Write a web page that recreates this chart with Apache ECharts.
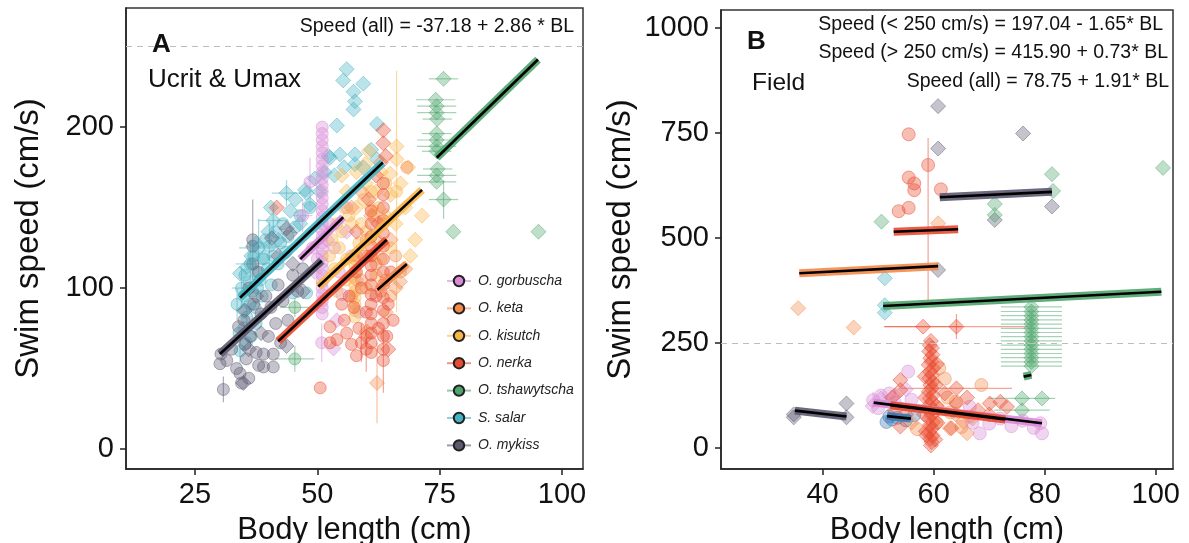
<!DOCTYPE html>
<html><head><meta charset="utf-8">
<script src="https://cdn.jsdelivr.net/npm/echarts/dist/echarts.min.js"></script>
<style>html,body{margin:0;padding:0;background:#fff}#c{width:1189px;height:543px}</style>
</head><body><div id="c"></div>
<script>
// ---------------- DATA ----------------
const species = ['O. gorbuscha','O. keta','O. kisutch','O. nerka','O. tshawytscha','S. salar','O. mykiss'];
const xTicksA = [25,50,75,100];
const yTicksA = [0,100,200];
const xTicksB = [40,60,80,100];
const yTicksB = [0,250,500,750,1000];
const threshold = 250;

// points: [bodyLength, speed, xErr, yErr]
const A_salar_c = [[33.6,90,0,10],[34.2,61,0,8],[34.5,100,2,12],[35,95],[35.2,108],[35.6,82,0,10],[36,104],[36.3,115,3,14],[36.8,98],[37,120],[37.3,88],[37.6,110],[38,125,4,18],[38.3,105],[38.7,95],[39,118],[39.4,130],[39.8,112],[40.2,126,5,15],[40.6,102],[41,120],[41.5,135],[42,115],[42.5,128],[43,140],[43.5,122],[44,132],[45,97],[45.5,138],[46.5,145],[47.8,97],[48.5,150],[36.5,70],[35,75],[37.5,78],[34,72],[35.5,66],[36.2,90],[37.8,100]];
const A_salar_d = [[34.2,109],[34.9,86],[35.6,113],[36.5,120],[37.5,128],[39,119],[40,135],[41,142,3,10],[42,130],[43.7,159,3,8],[44.5,148],[45.5,155],[46.5,140],[47.5,161],[48.5,152],[49.5,168],[50.5,160],[51.5,172],[52.3,182],[52.6,181],[53.5,170],[54.6,183],[54,201],[55.5,175],[57.7,183],[57.7,177],[59.4,175],[62.2,180],[62.2,202],[56,236],[55.3,229],[57.4,222],[59.4,227],[57.7,216],[57.4,211],[61,186],[47.8,159],[40.5,150]];
const A_mykiss_c = [[30.1,53],[30.3,59],[30.8,37,0,8],[31.5,55],[32.5,62],[33.5,50],[33.9,76],[34.2,47],[34.5,41],[35,80],[35.2,65],[35.5,56],[36,44],[36.3,70],[36.8,130,0,25],[36.8,126],[36.8,115],[37,90],[37.5,60],[38,52],[38.5,84],[39,59],[39,51],[39.5,95],[40,70],[40.5,88],[41,59],[41,51],[41.5,78],[42,102],[42.5,66],[43,92],[44,80],[45,108],[46,98],[47,112],[36,100],[38,110]];
const A_mykiss_d = [[34.9,41],[35.2,86],[36,62],[37.5,95],[38.5,72],[40.7,131],[43.7,137],[44.4,134],[43.7,64],[47.1,98],[45,115],[42,120]];
const A_gorbuscha_c = [[51,200],[51,196],[51,192],[51,188],[51,184],[51,180],[51,176],[51,172],[51,168],[51,164],[51,160],[51,156],[51,152],[51,148],[51,144],[51,140],[51,136],[51,132],[51,128],[51,124],[51,120],[51,116],[51,112],[51,108],[51,104],[51,100],[51,96],[51,92],[51,88],[51,84],[48.5,166,0,15],[47,145,2,10],[49,125],[50,118],[52.5,140],[53.5,125],[54.5,110],[50.9,66,0,12],[55,96],[57,120],[58.5,85],[56,150]];
const A_gorbuscha_d = [[53.3,62.5],[54,80],[49.5,110],[52,130],[56,135],[58,105]];
const A_kisutch_c = [[57.7,82],[57.7,86],[57.7,90],[57.7,94],[57.7,98],[57.7,102],[57.7,106],[57.7,110],[57.7,114],[57.7,118],[52.5,120],[53,130],[53.5,112],[54,140],[54.5,125],[55,135],[55.5,150],[56,118],[56.5,145],[58.5,128],[59,140],[59.5,155],[60,135],[60.5,120],[61,160],[61.5,145],[62,130],[62.5,150],[63,118],[63.5,140],[64,165],[65,125],[66.2,160,0,75],[54,98],[56,105],[60,100],[62,108]];
const A_kisutch_d = [[59.8,177],[64.9,171],[66.2,188],[66.2,180],[68.6,175],[71.4,145],[62,160],[63,172],[65,158],[67,165],[60,165],[58,150],[56,160],[55,170],[57,140],[61,150],[64,145],[69,120],[70,130],[58,172],[60.5,185],[66,140],[68,150]];
const A_nerka_c = [[61,60],[61,66],[61,72],[61,78],[61,84],[61,90],[61,96],[61,102],[61,108],[61,114],[61,120],[61,126],[61,132],[61,140],[61,148],[63.5,55,0,20],[63.5,62],[63.5,70],[63.5,78],[63.5,86],[63.5,94],[63.5,102],[63.5,110],[63.5,118],[63.5,126],[63.5,134],[63.5,142],[63.5,150],[63.5,158],[63.5,165],[55.5,80],[56,72],[56.5,95],[57,65],[57.5,88],[58,110],[58.5,75],[59,100],[59.5,120],[60,85],[62,95],[62.5,75],[64.5,90],[65,110],[65.5,80],[50.6,38],[52.6,76],[52.6,66],[54,68],[55,90],[58,58],[60,62,0,14],[59,66,0,12],[64.2,70]];
const A_nerka_d = [[63.5,198],[63.5,190],[64,182],[41.7,150],[60,70],[64.5,62],[58,135],[62,170],[60.5,155],[62.5,140]];
const A_keta_c = [[68.3,175],[60,130],[62,115],[64,105],[65,95],[66,120],[58,120],[59,105],[63,98],[67,110],[57,95]];
const A_keta_d = [[66.9,104],[60.1,73],[62.2,41,0,25],[64,85],[66,100],[68,112],[65,130],[61,145],[59,160],[63,178],[57,150]];
const A_tshaw_c = [[45.4,56,4,8],[45.4,88,3,6]];
const A_tshaw_d = [[74.2,217,4,0],[74.4,213,4,0],[74.4,209,4,0],[74.5,205,3,0],[74.4,196,3,0],[74.4,192,4,0],[74.4,188,4,0],[74.4,185,3,0],[74.6,174,3,0],[74.4,170,4,0],[74.4,166,4,0],[75.8,230,3,0],[75.8,155,3,12],[77.8,135],[95.2,135]];

const B_mykiss_d = [[60.8,814],[60.8,713],[76.1,749],[81.3,575],[71,543],[60.8,424],[34.8,73],[44.3,73],[44.3,106],[34.8,80]];
const B_tshaw_d = [[81.3,652],[81.5,612],[71,581],[71,555],[50.6,539],[101.3,667],[77.6,336,5.5,0],[77.6,325,5.5,0],[77.6,315,5.5,0],[77.6,305,5.5,0],[77.6,295,5.5,0],[77.6,285,5.5,0],[77.6,275,5.5,0],[77.6,265,5.5,0],[77.6,255,5.5,0],[77.6,245,5.5,0],[77.6,235,5.5,0],[77.6,225,5.5,0],[77.6,215,5.5,0],[77.6,205,5.5,0],[77.6,195,5.5,0],[75.9,118,6,0],[79.5,118],[75.9,90,5,0]];
const B_salar_d = [[51.2,404],[51.2,340],[51.2,322]];
const B_salar_c = [[51.5,62],[52,75],[52.5,68],[53.5,72],[55,66],[56.5,78]];
const B_keta_d = [[35.6,333],[45.6,287],[60.8,535],[65.3,63],[66,35],[62.9,47],[64,80],[67,70],[56,60],[61,95]];
const B_keta_c = [[68.6,150],[61,190],[62,165],[62.5,120],[60.5,60],[63,85],[65,50],[66.5,75],[57,45],[64,110]];
const B_nerka_c = [[55.5,747],[59,674],[55.5,644],[56.5,630],[56.5,614],[61.3,616],[53.7,564],[55.5,572]];
const B_nerka_d = [[58.1,289,7,0],[64.1,289,13,30],[54,162],[54,138],[54,51],[64.1,142,10,0],[64.1,106],[70.1,106],[73.2,98],[63.2,47],[52.5,120],[53,90],[55,80],[62,130],[66,120],[68,90],[70,80],[72,110],
  [59.5,255],[59.3,245],[59.7,238],[59.2,230],[59.8,222],[59.4,214],[59.6,206],[59.1,198],[59.9,190],[59.3,182],[59.7,174],[59.2,166],[59.8,158],[59.4,150],[59.6,142],[59.1,134],[59.9,126],[59.3,118],[59.7,110],[59.2,102],[59.8,94],[59.4,86],[59.6,78],[59.1,70],[59.9,62],[59.3,54],[59.7,46],[59.2,38],[59.8,30],[59.4,22],[59.6,14],[59.5,6],[58.5,120],[60.5,100],[58.3,80],[60.7,60],[58.6,40],[60.4,150],[58.4,170],[60.6,200],[58.7,30],[60.3,20]];
const B_nerka_bars = [[59,352,59,738]];
const B_gorbuscha_c = [[49.1,114,0,20],[50,95],[50.5,125],[52,130],[53,108],[55.4,182],[66.5,98],[68.3,35],[79.2,59],[79.5,35],[78,48],[70,58],[72,70],[74,52],[76,65],[67,60],[56,115]];
const B_gorbuscha_d = [[49,100],[50.5,118],[53,125],[55,140]];

// regression fits: [species, x1, y1, x2, y2]
const fitA = [['S. salar',34.2,94,63.4,178],['O. mykiss',30.1,59,50.9,117],['O. gorbuscha',46.5,118,55.3,144],['O. kisutch',50.2,101,71.4,161],['O. nerka',42,67,64.2,130],['O. keta',62.3,99,68.3,115],['O. tshawytscha',74.4,181,95.1,242]];
const fitB = [['O. mykiss',61.1,597,81.3,610],['O. nerka',52.8,515,64.4,521],['O. keta',35.8,416,60.8,433],['O. tshawytscha',50.9,338,101,372],['O. mykiss',35,89,44.3,75],['S. salar B',51.6,76,55.9,70],['O. gorbuscha',49.2,108,79.5,59],['O. nerka',52.2,102,72.9,68],['O. tshawytscha',76.2,170,77.6,174]];

// ---------------- STYLE ----------------
const FONT = '"Liberation Sans", Arial, Helvetica, sans-serif';
const COL = {'O. gorbuscha':'#d88ad6','O. keta':'#f4894a','O. kisutch':'#f9b447','O. nerka':'#ea4a2f','O. tshawytscha':'#4ea56b','S. salar':'#45b2c2','O. mykiss':'#5d5971','S. salar B':'#3b78b2'};
function rgba(hex,a){const n=parseInt(hex.slice(1),16);return `rgba(${n>>16&255},${n>>8&255},${n&255},${a})`;}

const series = [];
function addPts(data, sp, symbol, size, ax){
  const c = COL[sp];
  const err = data.filter(d=>(d[2]||0)>0||(d[3]||0)>0).map(d=>[d[0],d[1],d[2]||0,d[3]||0]);
  if (err.length) series.push({type:'custom', xAxisIndex:ax, yAxisIndex:ax, silent:true, z:1, data:err,
    renderItem(p, api){
      const x=api.value(0), y=api.value(1), ex=api.value(2), ey=api.value(3), ch=[];
      if(ey>0){const a=api.coord([x,y-ey]), b=api.coord([x,y+ey]); ch.push({type:'line',shape:{x1:a[0],y1:a[1],x2:b[0],y2:b[1]},style:{stroke:rgba(c,0.5),lineWidth:1.2}});}
      if(ex>0){const a=api.coord([x-ex,y]), b=api.coord([x+ex,y]); ch.push({type:'line',shape:{x1:a[0],y1:a[1],x2:b[0],y2:b[1]},style:{stroke:rgba(c,0.5),lineWidth:1.2}});}
      return {type:'group', children:ch};
    }});
  series.push({type:'scatter', xAxisIndex:ax, yAxisIndex:ax, silent:true, z:2, symbol, symbolSize:size,
    data:data.map(d=>[d[0],d[1]]),
    itemStyle:{color:rgba(c,0.45), borderColor:rgba(c,0.6), borderWidth:1}});
}
function addBars(segs, sp, ax){
  const c = COL[sp];
  segs.forEach(s=>series.push({type:'line', xAxisIndex:ax, yAxisIndex:ax, silent:true, z:1, symbol:'none', data:[[s[0],s[1]],[s[2],s[3]]], lineStyle:{color:rgba(c,0.5), width:1.2}}));
}
function addFits(fits, ax){
  fits.forEach(f=>{
    const d=[[f[1],f[2]],[f[3],f[4]]];
    series.push({type:'line', xAxisIndex:ax, yAxisIndex:ax, silent:true, z:5, symbol:'none', data:d, lineStyle:{color:rgba(COL[f[0]],0.9), width:8, cap:'butt'}});
    series.push({type:'line', xAxisIndex:ax, yAxisIndex:ax, silent:true, z:6, symbol:'none', data:d, lineStyle:{color:'#000', width:2.6, cap:'butt'}});
  });
}
// Panel A
addPts(A_salar_c,'S. salar','circle',12,0); addPts(A_mykiss_c,'O. mykiss','circle',12,0);
addPts(A_salar_d,'S. salar','diamond',15,0); addPts(A_mykiss_d,'O. mykiss','diamond',15,0);
addPts(A_gorbuscha_c,'O. gorbuscha','circle',12,0); addPts(A_gorbuscha_d,'O. gorbuscha','diamond',15,0);
addPts(A_kisutch_c,'O. kisutch','circle',12,0); addPts(A_kisutch_d,'O. kisutch','diamond',15,0);
addPts(A_keta_c,'O. keta','circle',12,0); addPts(A_keta_d,'O. keta','diamond',15,0);
addPts(A_nerka_c,'O. nerka','circle',12,0); addPts(A_nerka_d,'O. nerka','diamond',15,0);
addPts(A_tshaw_c,'O. tshawytscha','circle',12,0); addPts(A_tshaw_d,'O. tshawytscha','diamond',15,0);
addFits(fitA,0);
// Panel B
addPts(B_mykiss_d,'O. mykiss','diamond',15,1); addPts(B_tshaw_d,'O. tshawytscha','diamond',15,1);
addPts(B_salar_d,'S. salar','diamond',15,1); addPts(B_salar_c,'S. salar B','circle',13,1);
addPts(B_keta_c,'O. keta','circle',13,1); addPts(B_keta_d,'O. keta','diamond',15,1);
addPts(B_gorbuscha_c,'O. gorbuscha','circle',13,1); addPts(B_gorbuscha_d,'O. gorbuscha','diamond',15,1);
addBars(B_nerka_bars,'O. nerka',1);
addPts(B_nerka_c,'O. nerka','circle',13,1); addPts(B_nerka_d,'O. nerka','diamond',15,1);
addFits(fitB,1);
// threshold lines
[0,1].forEach(ax=>series.push({type:'scatter', xAxisIndex:ax, yAxisIndex:ax, data:[], silent:true, z:0,
  markLine:{silent:true, symbol:'none', label:{show:false}, lineStyle:{type:[6,5], color:'#bdbdbd', width:1.2}, data:[{yAxis:threshold}]}}));
// legend dummy series
species.forEach(sp=>series.push({name:sp, type:'line', xAxisIndex:0, yAxisIndex:0, data:[], symbol:'circle', symbolSize:12,
  itemStyle:{color:COL[sp], borderColor:'#222', borderWidth:1}, lineStyle:{color:rgba(COL[sp],0.6), width:1.2}}));

const numFmt = v => String(v);
function xAx(g,min,max,ticks){return {type:'value', gridIndex:g, min, max,
  axisLine:{show:true,onZero:false,lineStyle:{color:'#222',width:1.5}},
  axisTick:{show:true,customValues:ticks,length:6,lineStyle:{color:'#222',width:1.5}},
  axisLabel:{customValues:ticks,formatter:numFmt,fontSize:29,color:'#111',margin:11,fontFamily:FONT},
  splitLine:{show:false}, name:'Body length (cm)', nameLocation:'middle', nameGap:46,
  nameTextStyle:{fontSize:31,color:'#111',fontFamily:FONT}};}
function yAx(g,min,max,ticks,gap){return {type:'value', gridIndex:g, min, max,
  axisLine:{show:true,onZero:false,lineStyle:{color:'#222',width:1.5}},
  axisTick:{show:true,customValues:ticks,length:6,lineStyle:{color:'#222',width:1.5}},
  axisLabel:{customValues:ticks,formatter:numFmt,fontSize:29,color:'#111',margin:12,fontFamily:FONT},
  splitLine:{show:false}, name:'Swim speed (cm/s)', nameLocation:'middle', nameGap:gap,
  nameTextStyle:{fontSize:33,color:'#111',fontFamily:FONT}};}

const txt=(x,y,t,size,align,weight)=>({type:'text',x,y,style:{text:t,fontSize:size,fontFamily:FONT,fill:'#111',align,verticalAlign:'middle',fontWeight:weight||'normal'},z:20});

const chart = echarts.init(document.getElementById('c'));
chart.setOption({
  animation:false, backgroundColor:'#fff',
  grid:[{left:126,top:8,width:457,height:461,show:true,borderColor:'#333',borderWidth:1.5,backgroundColor:'transparent',containLabel:false,outerBoundsMode:'none'},
        {left:721,top:10,width:452,height:459,show:true,borderColor:'#333',borderWidth:1.5,backgroundColor:'transparent',containLabel:false,outerBoundsMode:'none'}],
  xAxis:[xAx(0,10.9,104.3,xTicksA), xAx(1,21.7,103.1,xTicksB)],
  yAxis:[yAx(0,-12.4,274,yTicksA,81),yAx(1,-50,1043,yTicksB,84)],
  legend:{data:species, orient:'vertical', left:441, top:269, itemWidth:24, itemHeight:13, itemGap:13.4,
    textStyle:{fontStyle:'italic',fontSize:14,color:'#222',fontFamily:FONT,padding:[0,0,0,2]}},
  graphic:[
    txt(574,27,'Speed (all) = -37.18 + 2.86 * BL',19.5,'right'),
    txt(152,45,'A',26,'left','bold'),
    txt(148,80,'Ucrit & Umax',26,'left'),
    txt(1163,25,'Speed (< 250 cm/s) = 197.04 - 1.65* BL',19.5,'right'),
    txt(1168,53,'Speed (> 250 cm/s) = 415.90 + 0.73* BL',19.5,'right'),
    txt(1169,82,'Speed (all) = 78.75 + 1.91* BL',19.5,'right'),
    txt(747,42,'B',26,'left','bold'),
    txt(752,83,'Field',24.5,'left')
  ],
  series
});
</script></body></html>
